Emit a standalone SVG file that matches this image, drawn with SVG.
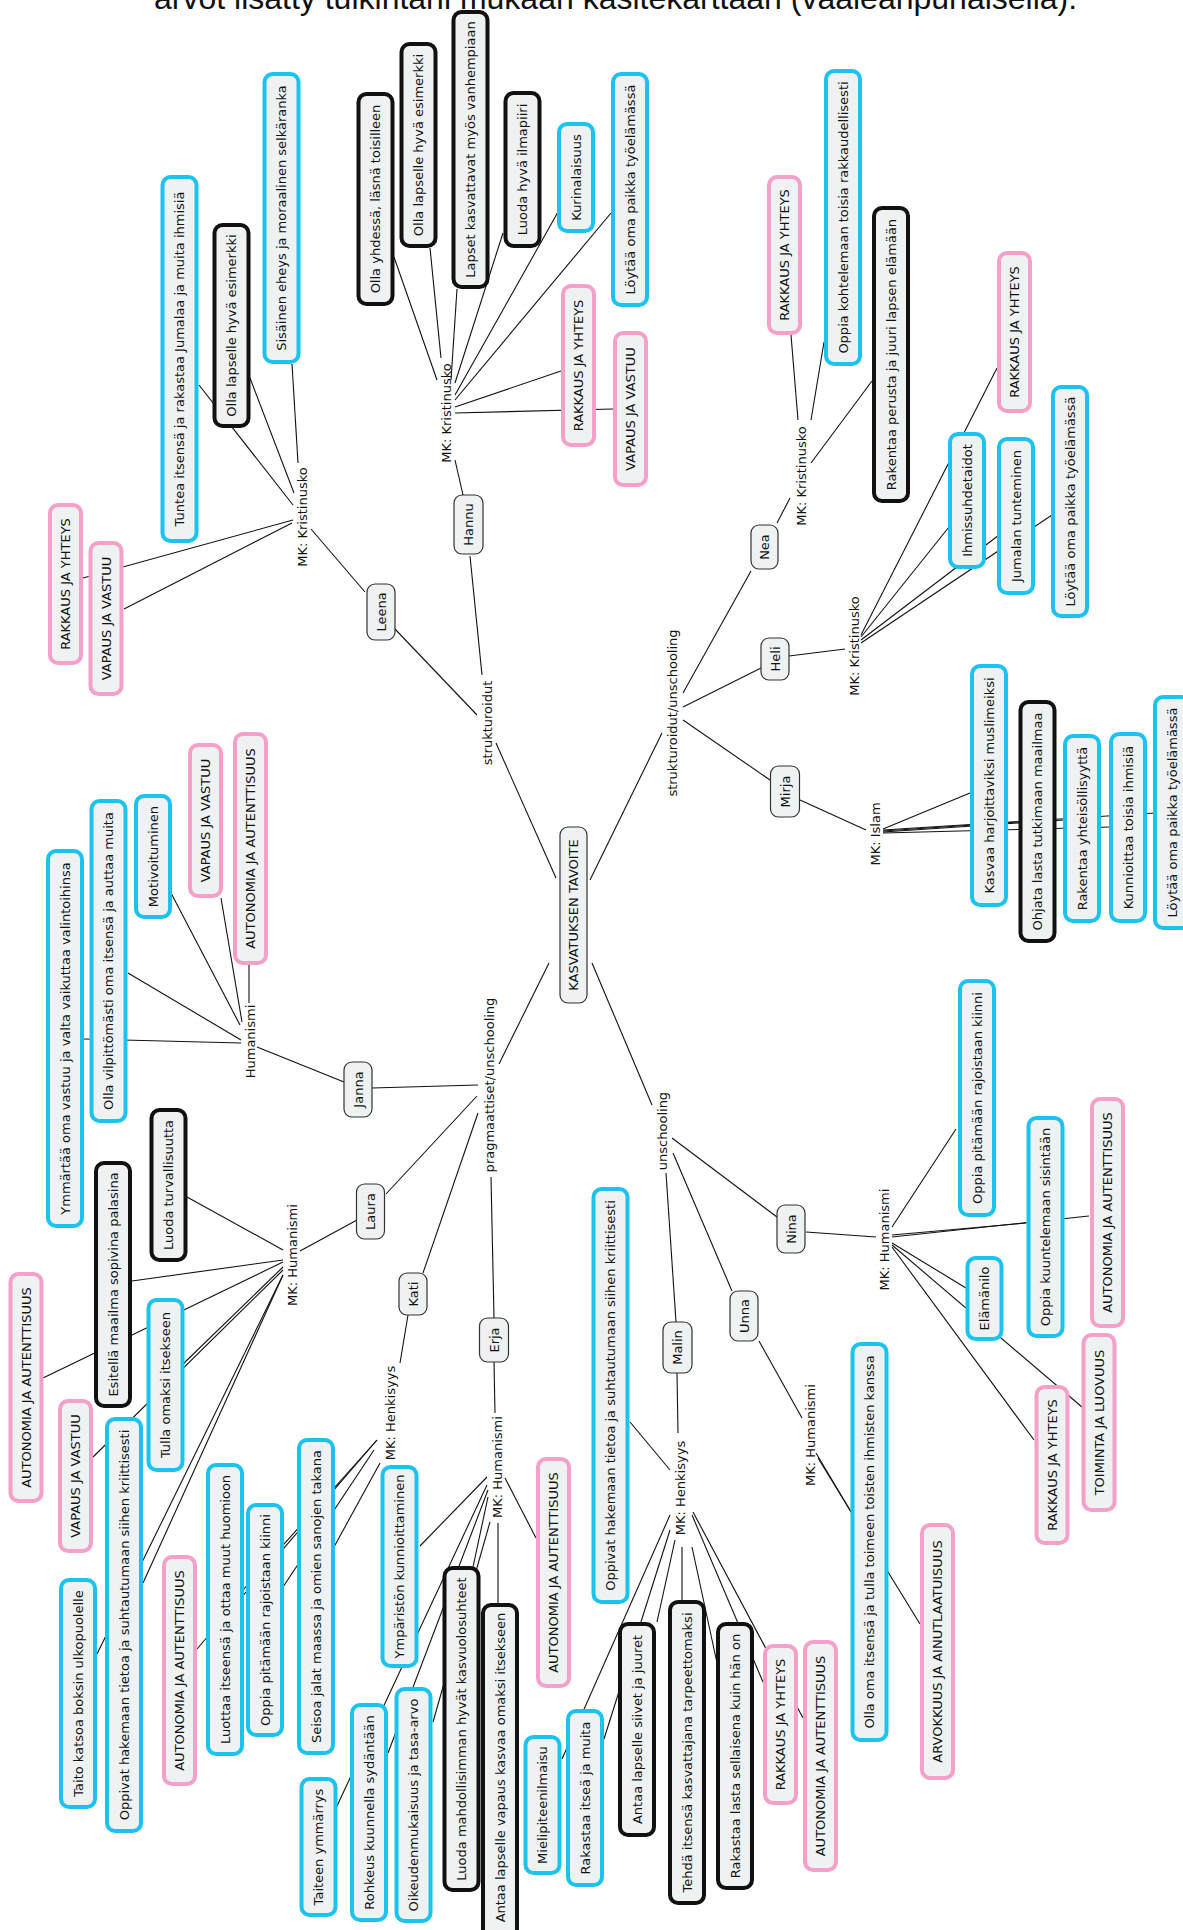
<svg xmlns="http://www.w3.org/2000/svg" width="1183" height="1930" viewBox="0 0 1183 1930">
<style>
  .bg{fill:#ffffff}
  .title{font-family:"Liberation Sans",Arial,sans-serif;font-size:32px;fill:#111}
  text.n{font-family:"DejaVu Sans",Verdana,sans-serif;font-size:13px;fill:#111;text-anchor:middle;dominant-baseline:central}
  .b rect{fill:#eef2f3;stroke:#1cc3ef;stroke-width:4}
  .p rect{fill:#eef2f3;stroke:#f4a0c8;stroke-width:4}
  .k rect{fill:#eef2f3;stroke:#111;stroke-width:4}
  .t rect{fill:#eef2f3;stroke:#333;stroke-width:1.2}
  #connectors line{stroke:#111;stroke-width:1.1}
</style>
<rect class="bg" x="0" y="0" width="1183" height="1930"/>
<text class="title" x="154" y="9">arvot lisätty tulkintani mukaan käsitekarttaan (vaaleanpunaisella):</text>

<g id="connectors">
  <!-- root to branch labels -->
  <line x1="556" y1="878" x2="496" y2="743"/>
  <line x1="590" y1="880" x2="662" y2="733"/>
  <line x1="549" y1="963" x2="499" y2="1064"/>
  <line x1="592" y1="963" x2="652" y2="1105"/>
  <!-- strukturoidut -->
  <line x1="477" y1="715" x2="394" y2="628"/>
  <line x1="482" y1="675" x2="470" y2="556"/>
  <line x1="365" y1="592" x2="311" y2="529"/>
  <line x1="463" y1="495" x2="455" y2="460"/>
  <!-- Leena: MK Kristinusko -->
  <line x1="293" y1="505" x2="199" y2="385"/>
  <line x1="294" y1="493" x2="250" y2="378"/>
  <line x1="298" y1="463" x2="292" y2="364"/>
  <line x1="293" y1="520" x2="83" y2="578"/>
  <line x1="292" y1="523" x2="124" y2="609"/>
  <!-- Hannu: MK Kristinusko -->
  <line x1="437" y1="380" x2="394" y2="257"/>
  <line x1="441" y1="358" x2="430" y2="248"/>
  <line x1="451" y1="380" x2="457" y2="289"/>
  <line x1="455" y1="383" x2="503" y2="233"/>
  <line x1="455" y1="395" x2="558" y2="212"/>
  <line x1="455" y1="400" x2="611" y2="213"/>
  <line x1="455" y1="407" x2="561" y2="371"/>
  <line x1="455" y1="413" x2="613" y2="409"/>
  <!-- strukturoidut/unschooling -->
  <line x1="683" y1="693" x2="751" y2="571"/>
  <line x1="683" y1="707" x2="761" y2="668"/>
  <line x1="683" y1="720" x2="770" y2="780"/>
  <line x1="777" y1="523" x2="790" y2="498"/>
  <line x1="789" y1="656" x2="845" y2="649"/>
  <line x1="800" y1="800" x2="866" y2="830"/>
  <!-- Nea: MK Kristinusko -->
  <line x1="798" y1="420" x2="791" y2="335"/>
  <line x1="811" y1="420" x2="824" y2="342"/>
  <line x1="811" y1="463" x2="872" y2="381"/>
  <!-- Heli: MK Kristinusko -->
  <line x1="861" y1="635" x2="997" y2="368"/>
  <line x1="861" y1="637" x2="949" y2="527"/>
  <line x1="861" y1="640" x2="999" y2="535"/>
  <line x1="861" y1="643" x2="1052" y2="515"/>
  <!-- Mirja: MK Islam -->
  <line x1="883" y1="829" x2="970" y2="793"/>
  <line x1="883" y1="831" x2="1019" y2="822"/>
  <line x1="883" y1="832" x2="1064" y2="820"/>
  <line x1="883" y1="833" x2="1110" y2="827"/>
  <line x1="883" y1="830" x2="1155" y2="813"/>
  <!-- pragmaattiset/unschooling -->
  <line x1="478" y1="1085" x2="372" y2="1088"/>
  <line x1="477" y1="1096" x2="386" y2="1194"/>
  <line x1="478" y1="1113" x2="423" y2="1273"/>
  <line x1="491" y1="1177" x2="494" y2="1318"/>
  <line x1="344" y1="1082" x2="257" y2="1047"/>
  <line x1="357" y1="1220" x2="300" y2="1251"/>
  <line x1="408" y1="1315" x2="400" y2="1363"/>
  <line x1="494" y1="1362" x2="495" y2="1413"/>
  <!-- Janna: Humanismi -->
  <line x1="249" y1="1003" x2="249" y2="965"/>
  <line x1="242" y1="1022" x2="221" y2="898"/>
  <line x1="240" y1="1025" x2="171" y2="893"/>
  <line x1="241" y1="1040" x2="128" y2="973"/>
  <line x1="241" y1="1043" x2="84" y2="1039"/>
  <!-- Laura: MK Humanismi -->
  <line x1="283" y1="1250" x2="187" y2="1197"/>
  <line x1="283" y1="1260" x2="132" y2="1281"/>
  <line x1="283" y1="1262" x2="43" y2="1378"/>
  <line x1="283" y1="1267" x2="182" y2="1365"/>
  <line x1="283" y1="1270" x2="93" y2="1457"/>
  <line x1="283" y1="1275" x2="143" y2="1583"/>
  <line x1="283" y1="1275" x2="97" y2="1654"/>
  <!-- Kati: MK Henkisyys -->
  <line x1="380" y1="1463" x2="334" y2="1547"/>
  <line x1="374" y1="1450" x2="283" y2="1587"/>
  <line x1="377" y1="1440" x2="243" y2="1590"/>
  <line x1="377" y1="1440" x2="197" y2="1649"/>
  <!-- Erja: MK Humanismi -->
  <line x1="487" y1="1477" x2="420" y2="1546"/>
  <line x1="488" y1="1497" x2="473" y2="1567"/>
  <line x1="498" y1="1523" x2="498" y2="1603"/>
  <line x1="505" y1="1478" x2="536" y2="1538"/>
  <line x1="490" y1="1522" x2="433" y2="1722"/>
  <line x1="488" y1="1490" x2="388" y2="1753"/>
  <line x1="487" y1="1485" x2="337" y2="1806"/>
  <!-- unschooling -->
  <line x1="672" y1="1138" x2="777" y2="1217"/>
  <line x1="673" y1="1153" x2="732" y2="1291"/>
  <line x1="666" y1="1173" x2="676" y2="1322"/>
  <line x1="806" y1="1232" x2="876" y2="1237"/>
  <line x1="759" y1="1341" x2="802" y2="1418"/>
  <line x1="677" y1="1373" x2="678" y2="1433"/>
  <!-- Nina: MK Humanismi -->
  <line x1="892" y1="1227" x2="956" y2="1129"/>
  <line x1="892" y1="1235" x2="1026" y2="1223"/>
  <line x1="892" y1="1237" x2="1089" y2="1216"/>
  <line x1="892" y1="1243" x2="966" y2="1288"/>
  <line x1="892" y1="1245" x2="1082" y2="1407"/>
  <line x1="892" y1="1247" x2="1034" y2="1440"/>
  <!-- Unna: MK Humanismi -->
  <line x1="816" y1="1453" x2="851" y2="1512"/>
  <line x1="818" y1="1458" x2="920" y2="1624"/>
  <!-- Malin: MK Henkisyys -->
  <line x1="670" y1="1470" x2="630" y2="1422"/>
  <line x1="670" y1="1515" x2="562" y2="1759"/>
  <line x1="670" y1="1530" x2="604" y2="1739"/>
  <line x1="675" y1="1540" x2="657" y2="1622"/>
  <line x1="682" y1="1547" x2="682" y2="1600"/>
  <line x1="692" y1="1547" x2="717" y2="1663"/>
  <line x1="692" y1="1515" x2="763" y2="1682"/>
  <line x1="693" y1="1512" x2="803" y2="1718"/>
</g>

<!-- branch and link labels -->
<g id="l-strukturoidut"><text class="n" x="487" y="723" transform="rotate(-90 487 723)">strukturoidut</text></g>
<g id="l-strukt-unschooling"><text class="n" x="672" y="713" transform="rotate(-90 672 713)">strukturoidut/unschooling</text></g>
<g id="l-pragmaattiset"><text class="n" x="489" y="1085" transform="rotate(-90 489 1085)">pragmaattiset/unschooling</text></g>
<g id="l-unschooling"><text class="n" x="662" y="1131" transform="rotate(-90 662 1131)">unschooling</text></g>
<g id="l-leena-mk"><text class="n" x="302.5" y="517" transform="rotate(-90 302.5 517)">MK: Kristinusko</text></g>
<g id="l-hannu-mk"><text class="n" x="446" y="413" transform="rotate(-90 446 413)">MK: Kristinusko</text></g>
<g id="l-nea-mk"><text class="n" x="801.5" y="476" transform="rotate(-90 801.5 476)">MK: Kristinusko</text></g>
<g id="l-heli-mk"><text class="n" x="854" y="646" transform="rotate(-90 854 646)">MK: Kristinusko</text></g>
<g id="l-mirja-mk"><text class="n" x="875.5" y="834" transform="rotate(-90 875.5 834)">MK: Islam</text></g>
<g id="l-janna-mk"><text class="n" x="250.5" y="1041.5" transform="rotate(-90 250.5 1041.5)">Humanismi</text></g>
<g id="l-laura-mk"><text class="n" x="292.5" y="1255" transform="rotate(-90 292.5 1255)">MK: Humanismi</text></g>
<g id="l-kati-mk"><text class="n" x="390" y="1413" transform="rotate(-90 390 1413)">MK: Henkisyys</text></g>
<g id="l-erja-mk"><text class="n" x="497.5" y="1467" transform="rotate(-90 497.5 1467)">MK: Humanismi</text></g>
<g id="l-nina-mk"><text class="n" x="884" y="1239.5" transform="rotate(-90 884 1239.5)">MK: Humanismi</text></g>
<g id="l-unna-mk"><text class="n" x="810" y="1435" transform="rotate(-90 810 1435)">MK: Humanismi</text></g>
<g id="l-malin-mk"><text class="n" x="680" y="1488" transform="rotate(-90 680 1488)">MK: Henkisyys</text></g>

<!-- root and persons -->
<g id="n-root" class="t"><rect x="560" y="827" width="27" height="176" rx="8"/><text class="n" x="573.5" y="915" transform="rotate(-90 573.5 915)">KASVATUKSEN TAVOITE</text></g>
<g id="n-leena" class="t"><rect x="367" y="584" width="28" height="56" rx="8"/><text class="n" x="381" y="612" transform="rotate(-90 381 612)">Leena</text></g>
<g id="n-hannu" class="t"><rect x="454" y="495" width="29" height="59" rx="8"/><text class="n" x="468.5" y="524.5" transform="rotate(-90 468.5 524.5)">Hannu</text></g>
<g id="n-nea" class="t"><rect x="751" y="525" width="27" height="44" rx="8"/><text class="n" x="764.5" y="547" transform="rotate(-90 764.5 547)">Nea</text></g>
<g id="n-heli" class="t"><rect x="761" y="638" width="28" height="42" rx="8"/><text class="n" x="775" y="659" transform="rotate(-90 775 659)">Heli</text></g>
<g id="n-mirja" class="t"><rect x="770.5" y="766" width="29" height="51" rx="8"/><text class="n" x="785" y="791.5" transform="rotate(-90 785 791.5)">Mirja</text></g>
<g id="n-janna" class="t"><rect x="344" y="1062" width="28" height="55" rx="8"/><text class="n" x="358" y="1089.5" transform="rotate(-90 358 1089.5)">Janna</text></g>
<g id="n-laura" class="t"><rect x="356.5" y="1184" width="28" height="55" rx="8"/><text class="n" x="370.5" y="1211.5" transform="rotate(-90 370.5 1211.5)">Laura</text></g>
<g id="n-kati" class="t"><rect x="399" y="1273" width="28" height="42" rx="8"/><text class="n" x="413" y="1294" transform="rotate(-90 413 1294)">Kati</text></g>
<g id="n-erja" class="t"><rect x="479.5" y="1318" width="29" height="44" rx="8"/><text class="n" x="494" y="1340" transform="rotate(-90 494 1340)">Erja</text></g>
<g id="n-nina" class="t"><rect x="777" y="1205" width="28" height="48" rx="8"/><text class="n" x="791" y="1229" transform="rotate(-90 791 1229)">Nina</text></g>
<g id="n-unna" class="t"><rect x="730" y="1291" width="28" height="50" rx="8"/><text class="n" x="744" y="1316" transform="rotate(-90 744 1316)">Unna</text></g>
<g id="n-malin" class="t"><rect x="663" y="1322" width="29" height="51" rx="8"/><text class="n" x="677.5" y="1347.5" transform="rotate(-90 677.5 1347.5)">Malin</text></g>

<!-- Leena -->
<g id="n-tuntea" class="b"><rect x="162.5" y="177" width="34" height="364" rx="8"/><text class="n" x="179.5" y="359" transform="rotate(-90 179.5 359)">Tuntea itsensä ja rakastaa Jumalaa ja muita ihmisiä</text></g>
<g id="n-leena-esimerkki" class="k"><rect x="214.5" y="225" width="34" height="201" rx="8"/><text class="n" x="231.5" y="325.5" transform="rotate(-90 231.5 325.5)">Olla lapselle hyvä esimerkki</text></g>
<g id="n-sisainen" class="b"><rect x="264.5" y="74" width="34" height="288" rx="8"/><text class="n" x="281.5" y="218" transform="rotate(-90 281.5 218)">Sisäinen eheys ja moraalinen selkäranka</text></g>
<g id="n-leena-rakkaus" class="p"><rect x="50" y="505" width="31" height="158" rx="8"/><text class="n" x="65.5" y="584" transform="rotate(-90 65.5 584)">RAKKAUS JA YHTEYS</text></g>
<g id="n-leena-vapaus" class="p"><rect x="90.5" y="543" width="31" height="151" rx="8"/><text class="n" x="106" y="618.5" transform="rotate(-90 106 618.5)">VAPAUS JA VASTUU</text></g>

<!-- Hannu -->
<g id="n-yhdessa" class="k"><rect x="358.5" y="94" width="34" height="210" rx="8"/><text class="n" x="375.5" y="199" transform="rotate(-90 375.5 199)">Olla yhdessä, läsnä toisilleen</text></g>
<g id="n-hannu-esimerkki" class="k"><rect x="401.5" y="44" width="34" height="202" rx="8"/><text class="n" x="418.5" y="145" transform="rotate(-90 418.5 145)">Olla lapselle hyvä esimerkki</text></g>
<g id="n-lapset" class="k"><rect x="453.5" y="12" width="34" height="275" rx="8"/><text class="n" x="470.5" y="149.5" transform="rotate(-90 470.5 149.5)">Lapset kasvattavat myös vanhempiaan</text></g>
<g id="n-ilmapiiri" class="k"><rect x="505.5" y="93" width="34" height="153" rx="8"/><text class="n" x="522.5" y="169.5" transform="rotate(-90 522.5 169.5)">Luoda hyvä ilmapiiri</text></g>
<g id="n-kurinalaisuus" class="b"><rect x="559" y="124" width="34" height="107" rx="8"/><text class="n" x="576" y="177.5" transform="rotate(-90 576 177.5)">Kurinalaisuus</text></g>
<g id="n-hannu-tyoelama" class="b"><rect x="613" y="74" width="34" height="231" rx="8"/><text class="n" x="630" y="189.5" transform="rotate(-90 630 189.5)">Löytää oma paikka työelämässä</text></g>
<g id="n-hannu-rakkaus" class="p"><rect x="563" y="286" width="31" height="159" rx="8"/><text class="n" x="578.5" y="365.5" transform="rotate(-90 578.5 365.5)">RAKKAUS JA YHTEYS</text></g>
<g id="n-hannu-vapaus" class="p"><rect x="615" y="333" width="31" height="152" rx="8"/><text class="n" x="630.5" y="409" transform="rotate(-90 630.5 409)">VAPAUS JA VASTUU</text></g>

<!-- Nea -->
<g id="n-nea-rakkaus" class="p"><rect x="769" y="177" width="31" height="156" rx="8"/><text class="n" x="784.5" y="255" transform="rotate(-90 784.5 255)">RAKKAUS JA YHTEYS</text></g>
<g id="n-kohtelemaan" class="b"><rect x="826" y="71" width="34" height="293" rx="8"/><text class="n" x="843" y="217.5" transform="rotate(-90 843 217.5)">Oppia kohtelemaan toisia rakkaudellisesti</text></g>
<g id="n-perusta" class="k"><rect x="874" y="208" width="34" height="293" rx="8"/><text class="n" x="891" y="354.5" transform="rotate(-90 891 354.5)">Rakentaa perusta ja juuri lapsen elämään</text></g>

<!-- Heli -->
<g id="n-ihmissuhde" class="b"><rect x="950" y="434" width="34" height="133" rx="8"/><text class="n" x="967" y="500.5" transform="rotate(-90 967 500.5)">Ihmissuhdetaidot</text></g>
<g id="n-jumalan" class="b"><rect x="999" y="439" width="34" height="154" rx="8"/><text class="n" x="1016" y="516" transform="rotate(-90 1016 516)">Jumalan tunteminen</text></g>
<g id="n-heli-tyoelama" class="b"><rect x="1053" y="387" width="34" height="229" rx="8"/><text class="n" x="1070" y="501.5" transform="rotate(-90 1070 501.5)">Löytää oma paikka työelämässä</text></g>
<g id="n-heli-rakkaus" class="p"><rect x="999" y="253" width="31" height="158" rx="8"/><text class="n" x="1014.5" y="332" transform="rotate(-90 1014.5 332)">RAKKAUS JA YHTEYS</text></g>

<!-- Mirja -->
<g id="n-muslimeiksi" class="b"><rect x="972" y="666" width="34" height="239" rx="8"/><text class="n" x="989" y="785.5" transform="rotate(-90 989 785.5)">Kasvaa harjoittaviksi muslimeiksi</text></g>
<g id="n-ohjata" class="k"><rect x="1020.5" y="702" width="34" height="239" rx="8"/><text class="n" x="1037.5" y="821.5" transform="rotate(-90 1037.5 821.5)">Ohjata lasta tutkimaan maailmaa</text></g>
<g id="n-yhteisollisyys" class="b"><rect x="1065" y="736" width="34" height="185" rx="8"/><text class="n" x="1082" y="828.5" transform="rotate(-90 1082 828.5)">Rakentaa yhteisöllisyyttä</text></g>
<g id="n-kunnioittaa" class="b"><rect x="1111" y="734" width="34" height="187" rx="8"/><text class="n" x="1128" y="827.5" transform="rotate(-90 1128 827.5)">Kunnioittaa toisia ihmisiä</text></g>
<g id="n-mirja-tyoelama" class="b"><rect x="1155" y="697" width="34" height="231" rx="8"/><text class="n" x="1172" y="812.5" transform="rotate(-90 1172 812.5)">Löytää oma paikka työelämässä</text></g>

<!-- Janna -->
<g id="n-ymmartaa" class="b"><rect x="48" y="851" width="34" height="375" rx="8"/><text class="n" x="65" y="1038.5" transform="rotate(-90 65 1038.5)">Ymmärtää oma vastuu ja valta vaikuttaa valintoihinsa</text></g>
<g id="n-vilpittomasti" class="b"><rect x="91.5" y="801" width="34" height="320" rx="8"/><text class="n" x="108.5" y="961" transform="rotate(-90 108.5 961)">Olla vilpittömästi oma itsensä ja auttaa muita</text></g>
<g id="n-motivoituminen" class="b"><rect x="136" y="796" width="34" height="121" rx="8"/><text class="n" x="153" y="856.5" transform="rotate(-90 153 856.5)">Motivoituminen</text></g>
<g id="n-janna-vapaus" class="p"><rect x="190" y="745" width="31" height="151" rx="8"/><text class="n" x="205.5" y="820.5" transform="rotate(-90 205.5 820.5)">VAPAUS JA VASTUU</text></g>
<g id="n-janna-autonomia" class="p"><rect x="235" y="734" width="31" height="229" rx="8"/><text class="n" x="250.5" y="848.5" transform="rotate(-90 250.5 848.5)">AUTONOMIA JA AUTENTTISUUS</text></g>

<!-- Laura -->
<g id="n-turvallisuus" class="k"><rect x="151.5" y="1110" width="34" height="150" rx="8"/><text class="n" x="168.5" y="1185" transform="rotate(-90 168.5 1185)">Luoda turvallisuutta</text></g>
<g id="n-esitella" class="k"><rect x="96" y="1163" width="34" height="243" rx="8"/><text class="n" x="113" y="1284.5" transform="rotate(-90 113 1284.5)">Esitellä maailma sopivina palasina</text></g>
<g id="n-tulla" class="b"><rect x="148.5" y="1300" width="34" height="170" rx="8"/><text class="n" x="165.5" y="1385" transform="rotate(-90 165.5 1385)">Tulla omaksi itsekseen</text></g>
<g id="n-laura-autonomia" class="p"><rect x="10.5" y="1274" width="31" height="227" rx="8"/><text class="n" x="26" y="1387.5" transform="rotate(-90 26 1387.5)">AUTONOMIA JA AUTENTTISUUS</text></g>
<g id="n-laura-vapaus" class="p"><rect x="60" y="1401" width="31" height="150" rx="8"/><text class="n" x="75.5" y="1476" transform="rotate(-90 75.5 1476)">VAPAUS JA VASTUU</text></g>
<g id="n-laura-oppivat" class="b"><rect x="107" y="1419" width="34" height="412" rx="8"/><text class="n" x="124" y="1625" transform="rotate(-90 124 1625)">Oppivat hakemaan tietoa ja suhtautumaan siihen kriittisesti</text></g>
<g id="n-taito" class="b"><rect x="61" y="1580" width="34" height="227" rx="8"/><text class="n" x="78" y="1693.5" transform="rotate(-90 78 1693.5)">Taito katsoa boksin ulkopuolelle</text></g>

<!-- Kati -->
<g id="n-kati-autonomia" class="p"><rect x="164" y="1557" width="31" height="227" rx="8"/><text class="n" x="179.5" y="1670.5" transform="rotate(-90 179.5 1670.5)">AUTONOMIA JA AUTENTTISUUS</text></g>
<g id="n-luottaa" class="b"><rect x="208" y="1465" width="34" height="289" rx="8"/><text class="n" x="225" y="1609.5" transform="rotate(-90 225 1609.5)">Luottaa itseensä ja ottaa muut huomioon</text></g>
<g id="n-kati-rajoista" class="b"><rect x="248" y="1505" width="34" height="230" rx="8"/><text class="n" x="265" y="1620" transform="rotate(-90 265 1620)">Oppia pitämään rajoistaan kiinni</text></g>
<g id="n-seisoa" class="b"><rect x="299" y="1440" width="34" height="313" rx="8"/><text class="n" x="316" y="1596.5" transform="rotate(-90 316 1596.5)">Seisoa jalat maassa ja omien sanojen takana</text></g>

<!-- Erja -->
<g id="n-ymparisto" class="b"><rect x="382.5" y="1467" width="34" height="199" rx="8"/><text class="n" x="399.5" y="1566.5" transform="rotate(-90 399.5 1566.5)">Ympäristön kunnioittaminen</text></g>
<g id="n-oikeus" class="b"><rect x="396.5" y="1689" width="34" height="232" rx="8"/><text class="n" x="413.5" y="1805" transform="rotate(-90 413.5 1805)">Oikeudenmukaisuus ja tasa-arvo</text></g>
<g id="n-kasvuolo" class="k"><rect x="444.5" y="1568" width="34" height="322" rx="8"/><text class="n" x="461.5" y="1729" transform="rotate(-90 461.5 1729)">Luoda mahdollisimman hyvät kasvuolosuhteet</text></g>
<g id="n-vapaus-kasvaa" class="k"><rect x="483" y="1605" width="34" height="335" rx="8"/><text class="n" x="500" y="1767.5" transform="rotate(-90 500 1767.5)">Antaa lapselle vapaus kasvaa omaksi itsekseen</text></g>
<g id="n-erja-autonomia" class="p"><rect x="538" y="1459" width="31" height="227" rx="8"/><text class="n" x="553.5" y="1572.5" transform="rotate(-90 553.5 1572.5)">AUTONOMIA JA AUTENTTISUUS</text></g>
<g id="n-rohkeus" class="b"><rect x="352" y="1705" width="34" height="215" rx="8"/><text class="n" x="369" y="1812.5" transform="rotate(-90 369 1812.5)">Rohkeus kuunnella sydäntään</text></g>
<g id="n-taide" class="b"><rect x="301.5" y="1779" width="34" height="136" rx="8"/><text class="n" x="318.5" y="1847" transform="rotate(-90 318.5 1847)">Taiteen ymmärrys</text></g>

<!-- Nina -->
<g id="n-nina-rajoista" class="b"><rect x="960" y="981" width="34" height="234" rx="8"/><text class="n" x="977" y="1098" transform="rotate(-90 977 1098)">Oppia pitämään rajoistaan kiinni</text></g>
<g id="n-sisin" class="b"><rect x="1028.5" y="1118" width="34" height="218" rx="8"/><text class="n" x="1045.5" y="1227" transform="rotate(-90 1045.5 1227)">Oppia kuuntelemaan sisintään</text></g>
<g id="n-nina-autonomia" class="p"><rect x="1092" y="1099" width="31" height="227" rx="8"/><text class="n" x="1107.5" y="1212.5" transform="rotate(-90 1107.5 1212.5)">AUTONOMIA JA AUTENTTISUUS</text></g>
<g id="n-elamanilo" class="b"><rect x="967.5" y="1258" width="34" height="81" rx="8"/><text class="n" x="984.5" y="1298.5" transform="rotate(-90 984.5 1298.5)">Elämänilo</text></g>
<g id="n-nina-rakkaus" class="p"><rect x="1036.5" y="1387" width="31" height="156" rx="8"/><text class="n" x="1052" y="1465" transform="rotate(-90 1052 1465)">RAKKAUS JA YHTEYS</text></g>
<g id="n-toiminta" class="p"><rect x="1083.5" y="1335" width="31" height="175" rx="8"/><text class="n" x="1099" y="1422.5" transform="rotate(-90 1099 1422.5)">TOIMINTA JA LUOVUUS</text></g>

<!-- Unna -->
<g id="n-oma-itsensa" class="b"><rect x="852.5" y="1344" width="34" height="396" rx="8"/><text class="n" x="869.5" y="1542" transform="rotate(-90 869.5 1542)">Olla oma itsensä ja tulla toimeen toisten ihmisten kanssa</text></g>
<g id="n-arvokkuus" class="p"><rect x="922" y="1525" width="31" height="253" rx="8"/><text class="n" x="937.5" y="1651.5" transform="rotate(-90 937.5 1651.5)">ARVOKKUUS JA AINUTLAATUISUUS</text></g>

<!-- Malin -->
<g id="n-malin-oppivat" class="b"><rect x="593.5" y="1189" width="34" height="413" rx="8"/><text class="n" x="610.5" y="1395.5" transform="rotate(-90 610.5 1395.5)">Oppivat hakemaan tietoa ja suhtautumaan siihen kriittisesti</text></g>
<g id="n-mielipide" class="b"><rect x="525.5" y="1737" width="34" height="136" rx="8"/><text class="n" x="542.5" y="1805" transform="rotate(-90 542.5 1805)">Mielipiteenilmaisu</text></g>
<g id="n-rakastaa-itsea" class="b"><rect x="568" y="1711" width="34" height="174" rx="8"/><text class="n" x="585" y="1798" transform="rotate(-90 585 1798)">Rakastaa itseä ja muita</text></g>
<g id="n-siivet" class="k"><rect x="620" y="1624" width="34" height="211" rx="8"/><text class="n" x="637" y="1729.5" transform="rotate(-90 637 1729.5)">Antaa lapselle siivet ja juuret</text></g>
<g id="n-tarpeeton" class="k"><rect x="670" y="1602" width="34" height="301" rx="8"/><text class="n" x="687" y="1752.5" transform="rotate(-90 687 1752.5)">Tehdä itsensä kasvattajana tarpeettomaksi</text></g>
<g id="n-rakastaa-lasta" class="k"><rect x="718" y="1624" width="34" height="264" rx="8"/><text class="n" x="735" y="1756" transform="rotate(-90 735 1756)">Rakastaa lasta sellaisena kuin hän on</text></g>
<g id="n-malin-rakkaus" class="p"><rect x="765" y="1646" width="31" height="157" rx="8"/><text class="n" x="780.5" y="1724.5" transform="rotate(-90 780.5 1724.5)">RAKKAUS JA YHTEYS</text></g>
<g id="n-malin-autonomia" class="p"><rect x="805" y="1642" width="31" height="228" rx="8"/><text class="n" x="820.5" y="1756" transform="rotate(-90 820.5 1756)">AUTONOMIA JA AUTENTTISUUS</text></g>
</svg>
